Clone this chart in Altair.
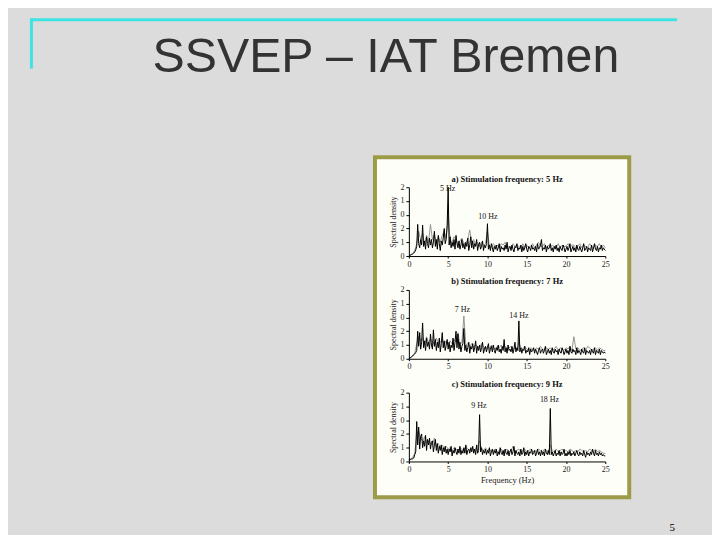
import altair as alt
import pandas as pd

SLIDE_TITLE = "SSVEP – IAT Bremen"
PAGE_NUMBER = "5"
PANEL_TITLES = [
    "a) Stimulation frequency: 5 Hz",
    "b) Stimulation frequency: 7 Hz",
    "c) Stimulation frequency: 9 Hz",
]
X_TICKS = [0, 5, 10, 15, 20, 25]
Y_TICKS = [0, 1, 2, 3, 4, 5]
Y_TICK_LABELS = ["0", "1", "2", "0", "1", "2"]
Y_TITLE = "Spectral density"
X_TITLE = "Frequency (Hz)"

# black traces: 8 samples per Hz (0 .. 25 Hz)
A_BLACK = [
    0.00, 0.05, 0.08, 0.12, 0.15, 0.22, 0.30, 0.45,
    0.70, 2.30, 0.90, 0.60, 1.20, 0.80, 2.25, 0.70,
    1.10, 0.50, 1.40, 0.90, 0.60, 1.30, 0.80, 1.20,
    0.60, 1.00, 1.80, 0.70, 1.20, 0.50, 1.50, 0.90,
    0.40, 1.10, 0.80, 1.30, 2.00, 0.90, 1.20, 2.20,
    5.00, 0.80, 1.40, 0.60, 1.00, 0.70, 1.20, 0.50,
    1.50, 0.90, 0.60, 1.10, 0.50, 0.80, 1.20, 0.60,
    0.90, 0.50, 1.00, 0.70, 1.30, 0.40, 0.80, 1.40,
    0.60, 1.10, 0.50, 0.90, 0.70, 1.20, 0.40, 0.80,
    1.00, 0.50, 0.70, 1.10, 0.40, 0.80, 0.60, 0.90,
    2.35, 0.50, 0.80, 0.40, 0.90, 0.60, 0.30, 0.70,
    0.50, 0.80, 0.40, 0.60, 0.90, 0.30, 0.70, 0.50,
    0.60, 0.40, 0.80, 0.50, 1.00, 0.30, 0.60, 0.70,
    0.40, 0.80, 0.50, 0.30, 0.70, 0.60, 0.90, 0.40,
    0.60, 0.50, 0.80, 0.30, 0.70, 0.40, 0.60, 0.90,
    0.50, 0.30, 0.70, 0.60, 0.40, 0.80, 0.50, 0.60,
    0.40, 0.70, 0.30, 0.90, 0.50, 0.60, 0.80, 1.20,
    0.40, 0.60, 0.50, 0.80, 0.30, 0.70, 0.50, 0.60,
    0.90, 0.40, 0.60, 0.30, 0.70, 0.50, 0.80, 0.40,
    0.60, 0.30, 0.70, 0.50, 0.40, 0.80, 0.60, 0.30,
    0.50, 0.70, 0.40, 0.60, 0.90, 0.30, 0.50, 0.70,
    0.40, 0.60, 0.30, 0.80, 0.50, 0.40, 0.70, 0.50,
    0.30, 0.60, 0.90, 0.40, 0.50, 0.70, 0.30, 0.60,
    0.50, 0.40, 0.80, 0.30, 0.60, 0.90, 0.50, 0.40,
    0.70, 0.30, 0.60, 0.50, 0.80, 0.40, 0.60, 0.50,
    0.40,
]
B_BLACK = [
    0.00, 0.05, 0.10, 0.15, 0.20, 0.30, 0.35, 0.45,
    0.60, 2.00, 0.90, 1.90, 0.70, 1.20, 2.60, 0.80,
    1.30, 0.60, 1.50, 0.90, 1.20, 0.70, 1.80, 1.00,
    0.70, 2.10, 0.90, 1.40, 0.60, 1.20, 0.80, 1.50,
    0.50, 1.10, 1.90, 0.80, 1.30, 0.60, 1.00, 1.40,
    0.70, 1.20, 0.50, 1.00, 0.80, 1.50, 0.60, 1.20,
    2.00, 0.80, 1.80, 0.70, 1.20, 0.50, 0.90, 1.10,
    2.20, 0.60, 1.00, 0.50, 0.80, 1.20, 0.40, 0.90,
    0.70, 1.10, 0.50, 0.80, 1.30, 0.40, 0.90, 0.60,
    1.00, 0.50, 0.80, 1.20, 0.40, 0.70, 0.90, 0.50,
    0.80, 1.10, 0.40, 0.70, 0.90, 0.50, 1.00, 0.60,
    0.40, 0.80, 0.60, 1.00, 0.50, 0.70, 0.40, 0.90,
    0.60, 1.40, 0.50, 0.80, 0.40, 1.00, 0.60, 0.70,
    0.50, 0.90, 0.40, 0.70, 1.20, 0.50, 0.80, 0.60,
    2.75, 0.50, 0.80, 0.40, 0.70, 0.60, 0.90, 0.40,
    0.60, 0.50, 0.80, 0.30, 0.70, 0.50, 0.60, 0.80,
    0.40, 0.70, 0.50, 0.30, 0.60, 0.80, 0.40, 0.60,
    0.70, 0.40, 0.60, 0.90, 0.30, 0.50, 0.70, 0.40,
    0.60, 0.30, 0.80, 0.50, 0.40, 0.70, 0.50, 0.60,
    0.30, 0.70, 0.50, 0.40, 0.80, 0.60, 0.30, 0.50,
    0.70, 0.40, 0.60, 0.30, 0.90, 0.50, 0.40, 0.70,
    0.50, 0.60, 0.30, 0.80, 0.40, 0.60, 0.50, 0.30,
    0.70, 0.50, 0.40, 0.80, 0.30, 0.60, 0.50, 0.40,
    0.60, 0.30, 0.70, 0.50, 0.40, 0.80, 0.30, 0.60,
    0.50, 0.40, 0.70, 0.30, 0.60, 0.50, 0.40, 0.50,
    0.40,
]
C_BLACK = [
    0.10, 0.12, 0.15, 0.18, 0.20, 0.25, 0.50, 0.70,
    2.90, 1.20, 2.50, 0.90, 1.80, 2.00, 1.00, 1.50,
    1.10, 1.90, 0.80, 1.60, 1.20, 1.70, 0.90, 1.40,
    1.50, 0.70, 1.20, 1.60, 0.80, 1.30, 0.60, 1.10,
    0.80, 1.20, 0.50, 1.00, 0.70, 1.10, 0.60, 0.90,
    0.50, 0.90, 0.70, 1.10, 0.40, 0.80, 0.60, 1.00,
    0.70, 0.50, 0.90, 0.60, 1.10, 0.50, 0.80, 0.60,
    1.00, 0.60, 1.20, 0.50, 0.80, 0.90, 0.60, 1.00,
    0.70, 1.10, 0.60, 0.90, 0.50, 1.20, 0.60, 0.80,
    3.40, 0.70, 1.00, 0.50, 0.80, 0.60, 0.90, 0.50,
    0.80, 0.60, 1.00, 0.40, 0.70, 0.90, 0.50, 0.80,
    0.60, 0.90, 0.40, 0.70, 0.50, 1.00, 0.60, 0.50,
    0.80, 0.40, 0.90, 0.60, 0.50, 0.80, 0.40, 0.70,
    0.90, 0.50, 0.70, 1.10, 0.40, 0.80, 0.60, 0.50,
    0.70, 0.40, 0.90, 0.50, 0.60, 1.00, 0.40, 0.70,
    0.50, 0.80, 0.40, 0.70, 0.60, 0.90, 0.50, 0.60,
    0.80, 0.40, 0.60, 0.90, 0.50, 0.70, 0.40, 0.80,
    0.50, 0.70, 0.40, 0.90, 0.60, 0.50, 0.80, 0.50,
    3.85, 0.50, 0.70, 0.40, 0.60, 0.80, 0.40, 0.60,
    0.50, 0.80, 0.40, 0.70, 0.50, 0.60, 0.90, 0.40,
    0.60, 0.40, 0.70, 0.50, 0.80, 0.40, 0.60, 0.50,
    0.70, 0.40, 0.60, 0.80, 0.50, 0.40, 0.70, 0.50,
    0.60, 0.40, 0.80, 0.50, 0.30, 0.70, 0.50, 0.60,
    0.40, 0.70, 0.50, 0.90, 0.60, 0.40, 0.80, 0.50,
    0.60, 0.40, 0.70, 0.50, 0.60, 0.40, 0.50, 0.40,
    0.40,
]

# grey traces: 4 samples per Hz (0 .. 25 Hz)
A_GREY = [
    0.00, 0.10, 0.20, 0.40, 0.90, 1.80, 1.20, 1.60,
    0.80, 1.50, 1.00, 2.30, 1.20, 1.60, 0.90, 1.40,
    1.00, 1.50, 1.80, 1.30, 3.00, 1.20, 1.00, 1.40,
    1.20, 0.80, 1.10, 1.30, 0.90, 1.00, 1.20, 1.90,
    1.00, 1.20, 0.80, 1.00, 0.70, 1.00, 0.80, 0.90,
    1.80, 0.70, 0.60, 0.90, 0.70, 0.80, 0.60, 0.90,
    0.80, 1.00, 0.60, 0.70, 0.60, 0.90, 0.70, 0.80,
    0.70, 0.60, 0.90, 0.60, 0.80, 0.60, 0.70, 0.90,
    0.60, 0.80, 1.00, 0.70, 0.70, 0.90, 0.60, 0.80,
    0.60, 0.80, 0.70, 0.60, 0.90, 0.60, 0.80, 0.70,
    0.70, 0.90, 0.60, 0.80, 0.80, 0.60, 0.70, 0.90,
    0.60, 0.80, 0.70, 0.60, 0.90, 0.70, 0.60, 0.80,
    0.70, 0.90, 0.60, 0.80, 0.60,
]
B_GREY = [
    0.00, 0.10, 0.25, 0.40, 1.10, 1.60, 1.30, 1.50,
    1.00, 1.60, 1.20, 1.40, 1.30, 1.00, 1.50, 1.10,
    1.20, 1.40, 1.00, 1.30, 1.00, 1.30, 1.10, 1.40,
    1.20, 1.90, 1.00, 1.20, 3.10, 1.00, 1.10, 0.90,
    1.10, 0.80, 1.00, 0.90, 0.80, 1.10, 0.90, 0.70,
    0.90, 0.70, 1.00, 0.80, 0.70, 0.90, 0.80, 1.00,
    0.80, 0.90, 0.70, 0.80, 0.90, 0.70, 0.80, 0.60,
    1.20, 0.80, 0.70, 0.90, 0.70, 0.60, 0.80, 0.70,
    0.60, 0.80, 0.70, 0.90, 0.70, 0.60, 0.80, 0.70,
    0.80, 0.60, 0.70, 0.90, 0.60, 0.80, 0.70, 0.60,
    0.80, 0.70, 0.90, 0.60, 1.60, 0.70, 0.80, 0.60,
    0.70, 0.80, 0.60, 0.90, 0.80, 0.60, 0.70, 0.80,
    0.60, 0.80, 0.70, 0.60, 0.60,
]
C_GREY = [
    0.15, 0.20, 0.30, 0.60, 2.00, 2.20, 1.70, 1.50,
    1.80, 1.40, 1.50, 1.30, 1.20, 1.70, 1.10, 1.30,
    1.00, 1.20, 0.90, 1.10, 0.90, 1.00, 0.80, 1.00,
    0.90, 0.80, 1.00, 0.90, 0.80, 1.10, 0.90, 0.80,
    1.00, 0.80, 0.90, 1.10, 1.50, 0.90, 0.80, 1.00,
    0.80, 0.90, 0.70, 0.80, 0.90, 0.70, 0.80, 0.90,
    0.70, 0.80, 0.90, 0.70, 0.80, 1.10, 0.70, 0.80,
    0.90, 0.70, 0.80, 0.90, 0.70, 0.80, 0.90, 0.70,
    0.80, 0.70, 0.90, 0.80, 0.70, 0.90, 0.80, 0.70,
    1.20, 0.80, 0.70, 0.90, 0.70, 0.80, 0.90, 0.70,
    0.80, 0.70, 0.90, 0.80, 0.70, 0.80, 0.70, 0.90,
    0.80, 0.70, 0.80, 0.70, 0.90, 0.80, 0.70, 0.90,
    0.70, 0.80, 0.70, 0.60, 0.60,
]

# peak annotations
A_PEAK_LABELS = ["5 Hz", "10 Hz"]
A_PEAK_FREQ = [4.95, 10.06]
A_PEAK_Y = [4.9, 2.83]
B_PEAK_LABELS = ["7 Hz", "14 Hz"]
B_PEAK_FREQ = [6.8, 14.0]
B_PEAK_Y = [3.53, 3.1]
C_PEAK_LABELS = ["9 Hz", "18 Hz"]
C_PEAK_FREQ = [8.9, 17.9]
C_PEAK_Y = [4.0, 4.5]

W, H = 197, 69
SERIF = "Liberation Serif"
SANS = "Liberation Sans"
BG = "#dcdcdc"
CYAN = "#3fe3e3"
OLIVE = "#9c9c48"

label_expr = "[" + ",".join("'" + s + "'" for s in Y_TICK_LABELS) + "][datum.value]"


def one(v):
    return pd.DataFrame({"t": [v]})


def panel(black, grey, title, plabels, pfreq, py, x_title, extra=()):
    df_b = pd.DataFrame({"f": [i / 8 for i in range(len(black))], "v": black})
    df_g = pd.DataFrame({"f": [i / 4 for i in range(len(grey))], "v": grey})
    df_p = pd.DataFrame({"f": pfreq, "v": py, "t": plabels})
    xs = alt.Scale(domain=[0, 25], nice=False, zero=False)
    ys = alt.Scale(domain=[0, 5], nice=False)
    xax = alt.Axis(values=X_TICKS, format="d", grid=False, labelFont=SERIF,
                   labelFontSize=8, labelColor="#222", tickSize=2, tickColor="#000",
                   domainColor="#000", labelPadding=2, titleFont=SERIF,
                   titleFontSize=8.5, titleFontWeight="normal", titleColor="#222",
                   titlePadding=2, labelOverlap=False, labelFlush=False, zindex=2)
    yax = alt.Axis(values=Y_TICKS, labelExpr=label_expr, grid=False, labelFont=SERIF,
                   labelFontSize=8, labelColor="#222", tickSize=3, tickColor="#000",
                   domainColor="#000", labelPadding=2, titleFont=SERIF,
                   titleFontSize=8, titleFontWeight="normal", titleColor="#222",
                   titlePadding=2, labelOverlap=False, labelFlush=False, zindex=2)
    X = alt.X("f:Q", scale=xs, axis=xax, title=x_title)
    Y = alt.Y("v:Q", scale=ys, axis=yax, title=Y_TITLE)
    grey_line = alt.Chart(df_g).mark_line(color="#8a8a8a", strokeWidth=0.9).encode(x=X, y=Y)
    black_line = alt.Chart(df_b).mark_line(color="#000", strokeWidth=1).encode(x=X, y=Y)
    ttl = alt.Chart(one(title)).mark_text(
        font=SERIF, fontSize=8.5, fontWeight="bold", color="#111", baseline="middle"
    ).encode(x=alt.value(W / 2), y=alt.value(-8.5), text="t:N")
    peaks = alt.Chart(df_p).mark_text(
        font=SERIF, fontSize=8, color="#111", baseline="middle"
    ).encode(x=X, y=Y, text="t:N")
    return alt.layer(*extra, grey_line, black_line, ttl, peaks).properties(width=W, height=H)


# slide decoration, positioned relative to the first panel's plot area (slide x=409, y=186)
slide_bg = alt.Chart(one("")).mark_rect(fill=BG).encode(
    x=alt.value(-401), x2=alt.value(303), y=alt.value(-178), y2=alt.value(346))
cyan_h = alt.Chart(one("")).mark_rule(color=CYAN, strokeWidth=3).encode(
    x=alt.value(-380), x2=alt.value(269), y=alt.value(-168))
cyan_v = alt.Chart(one("")).mark_rule(color=CYAN, strokeWidth=3).encode(
    x=alt.value(-378.5), y=alt.value(-169.5), y2=alt.value(-119))
slide_title = alt.Chart(one(SLIDE_TITLE)).mark_text(
    font=SANS, fontSize=48.4, color="#333333", align="left", baseline="alphabetic"
).encode(x=alt.value(-257), y=alt.value(-116), text="t:N")
figure_box = alt.Chart(one("")).mark_rect(fill="#fefef9", stroke=OLIVE, strokeWidth=4).encode(
    x=alt.value(-34), x2=alt.value(221), y=alt.value(-30), y2=alt.value(311))
page_no = alt.Chart(one(PAGE_NUMBER)).mark_text(
    font=SERIF, fontSize=11, color="#000", baseline="middle"
).encode(x=alt.value(264), y=alt.value(342), text="t:N")

pa = panel(A_BLACK, A_GREY, PANEL_TITLES[0], A_PEAK_LABELS, A_PEAK_FREQ, A_PEAK_Y, "",
           extra=(slide_bg, cyan_h, cyan_v, slide_title, figure_box, page_no))
pb = panel(B_BLACK, B_GREY, PANEL_TITLES[1], B_PEAK_LABELS, B_PEAK_FREQ, B_PEAK_Y, "")
pc = panel(C_BLACK, C_GREY, PANEL_TITLES[2], C_PEAK_LABELS, C_PEAK_FREQ, C_PEAK_Y, X_TITLE)

chart = alt.vconcat(pa, pb, pc, spacing=34, bounds="flush").properties(
    padding=0, background=BG
).configure_view(stroke="transparent")

chart.save("out.html", embed_options={"renderer": "svg", "actions": False})
